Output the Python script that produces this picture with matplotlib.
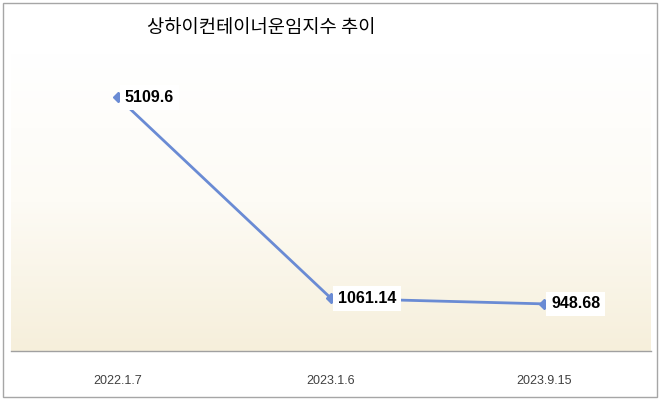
import numpy as np
import matplotlib
matplotlib.use("Agg")
import matplotlib.pyplot as plt
from matplotlib.colors import LinearSegmentedColormap
from matplotlib.patches import Rectangle

categories = ["2022.1.7", "2023.1.6", "2023.9.15"]
values = [5109.6, 1061.14, 948.68]
value_labels = ["5109.6", "1061.14", "948.68"]
title = "상하이컨테이너운임지수 추이"

plt.rcParams['font.family'] = ['Liberation Sans', 'DejaVu Sans']

W, H = 660, 400
fig = plt.figure(figsize=(W / 100, H / 100), dpi=100)
fig.patch.set_facecolor("white")

left, right, bottom, top = 11, 651, 351, 53
ax = fig.add_axes([left / W, (H - bottom) / H, (right - left) / W, (bottom - top) / H])

x = np.arange(len(categories))
ax.set_xlim(-0.5, len(categories) - 0.5)

cmap = LinearSegmentedColormap.from_list("bg", ["#ffffff", "#fdfbf5", "#f6efdb"])
grad = np.linspace(0, 1, 256).reshape(-1, 1)
ax.imshow(grad, cmap=cmap, extent=[-0.5, len(categories) - 0.5, 0, 6000],
          origin="upper", aspect="auto", zorder=0, interpolation="bilinear")
ax.set_ylim(0, 6000)

ax.plot(x, values, color="#6a8bd4", lw=2.0, marker="D", markersize=5.5,
        markerfacecolor="#6a8bd4", markeredgecolor="#6a8bd4", zorder=3)

for xi, v, lab in zip(x, values, value_labels):
    ax.annotate(lab, (xi, v), xytext=(5, 0), textcoords="offset points",
                ha="left", va="center", fontsize=11.5, fontweight="bold",
                color="black", zorder=4,
                bbox=dict(boxstyle="square,pad=0.3", fc="white", ec="none"))

ax.set_xticks(x)
ax.set_xticklabels(categories, fontsize=9, color="#404040")
ax.tick_params(axis="x", length=0, pad=17)
ax.set_yticks([])
for s in ["top", "left", "right"]:
    ax.spines[s].set_visible(False)
ax.spines["bottom"].set_color("#a0a0a0")
ax.spines["bottom"].set_linewidth(1.0)

fig.text(261 / W, 1 - 28 / H, title, fontsize=13.5, ha="center", va="center",
         family=["Noto Sans CJK KR", "DejaVu Sans"], fontweight="medium", color="black")

fig.patches.append(Rectangle((3 / W, 3 / H), 654 / W, 394 / H, transform=fig.transFigure,
                             fill=False, ec="#a6a6a6", lw=1.0, zorder=10))

fig.savefig("out.png", dpi=100)
